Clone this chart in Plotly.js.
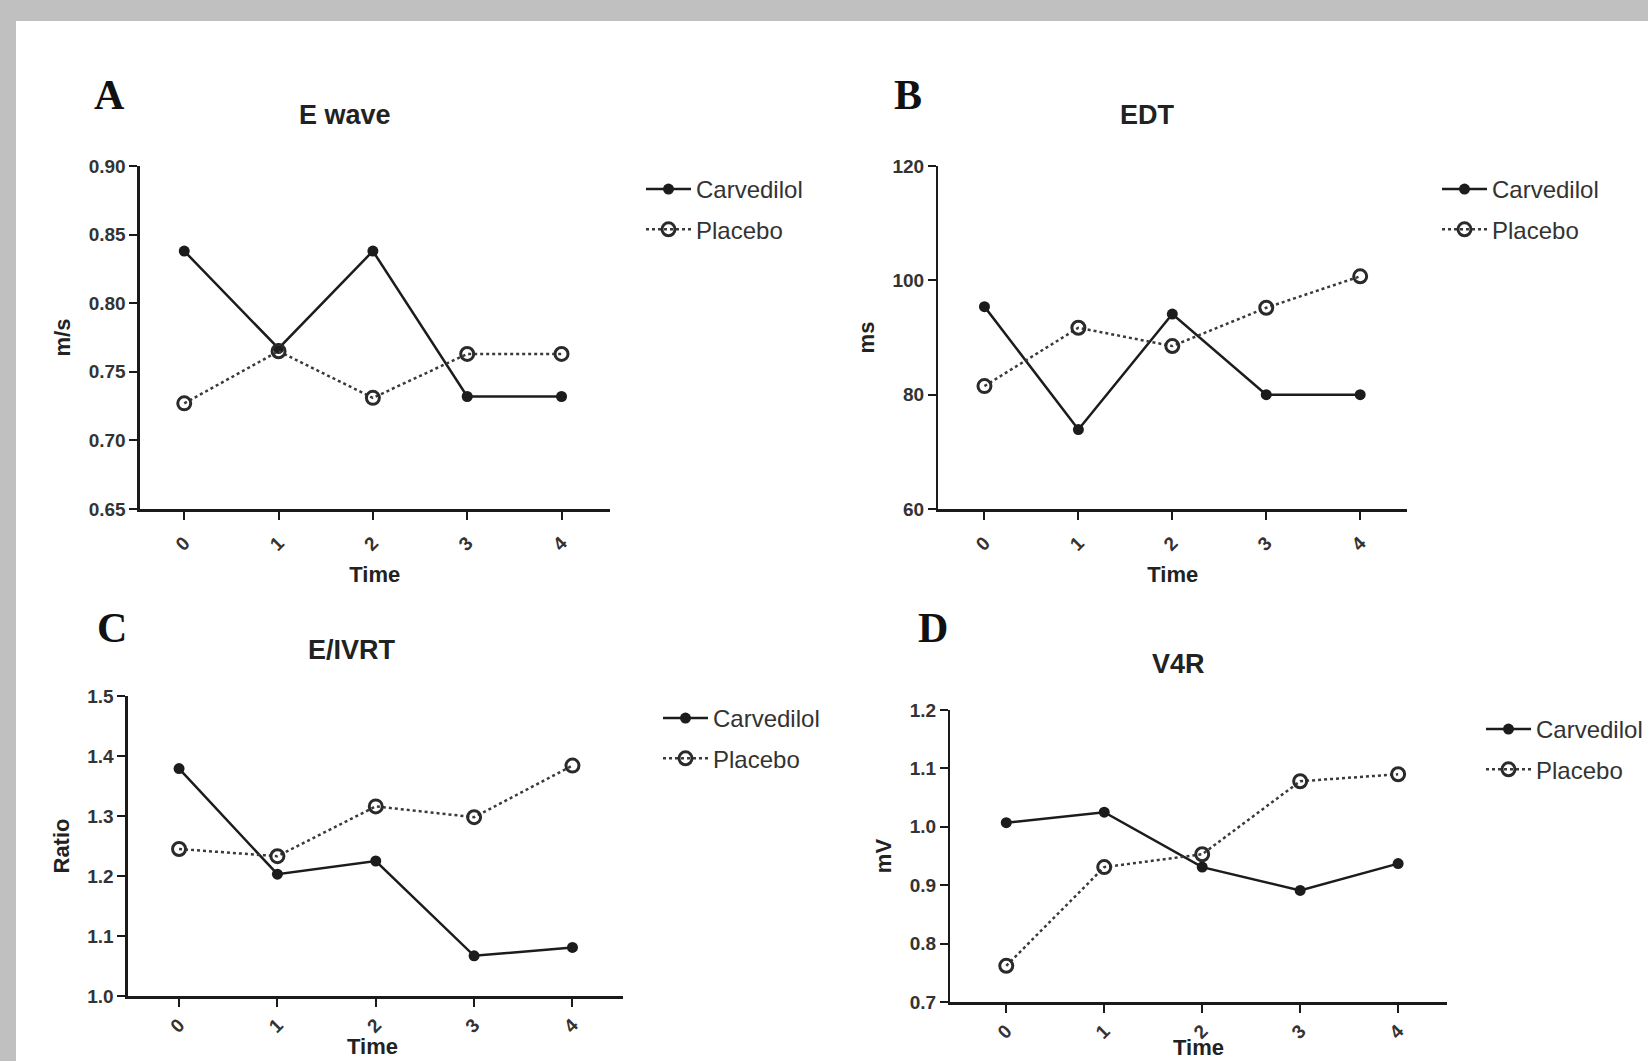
<!DOCTYPE html>
<html>
<head>
<meta charset="utf-8">
<script src="https://cdn.plot.ly/plotly-3.0.1.min.js"></script>
<style>
  html, body { margin: 0; padding: 0; background: #c0c0c0; }
  #chart { width: 1648px; height: 1061px; }
</style>
</head>
<body>
<div id="chart"></div>
<script>
// ---- data ----
const time = [0, 1, 2, 3, 4];
const timeLabels = ['0', '1', '2', '3', '4'];
const seriesNames = ['Carvedilol', 'Placebo'];

const eWaveCarvedilol = [0.838, 0.767, 0.838, 0.732, 0.732];
const eWavePlacebo    = [0.727, 0.765, 0.731, 0.763, 0.763];

const edtCarvedilol = [95.4, 73.9, 94.1, 80.0, 80.0];
const edtPlacebo    = [81.5, 91.7, 88.5, 95.2, 100.7];

const eivrtCarvedilol = [1.379, 1.203, 1.225, 1.067, 1.081];
const eivrtPlacebo    = [1.245, 1.233, 1.316, 1.298, 1.384];

const v4rCarvedilol = [1.007, 1.025, 0.931, 0.891, 0.937];
const v4rPlacebo    = [0.762, 0.931, 0.953, 1.078, 1.090];

const panelTitles = ['E wave', 'EDT', 'E/IVRT', 'V4R'];
const panelLetters = ['A', 'B', 'C', 'D'];
const yTitles = ['m/s', 'ms', 'Ratio', 'mV'];
const xTitle = 'Time';

// ---- layout helpers ----
const W = 1648, H = 1061;
const px = v => v / W;
const py = v => 1 - v / H;

const panels = [
  { c: eWaveCarvedilol, p: eWavePlacebo, x: [140, 610], y: [166, 509], xr: [-0.47, 4.51], yr: [0.65, 0.90], dt: 0.05, fmt: '.2f', leg: [641, 167], tls: 5, xt: null },
  { c: edtCarvedilol,   p: edtPlacebo,   x: [939, 1408], y: [166, 509], xr: [-0.49, 4.5], yr: [60, 120], dt: 20, fmt: 'd', leg: [1437, 167], tls: 5, xt: null },
  { c: eivrtCarvedilol, p: eivrtPlacebo, x: [128, 623], y: [696, 996], xr: [-0.52, 4.51], yr: [1.0, 1.5], dt: 0.1, fmt: '.1f', leg: [658, 696], tls: 0, xt: [373, 1046] },
  { c: v4rCarvedilol,   p: v4rPlacebo,   x: [951, 1448], y: [710, 1002], xr: [-0.57, 4.5], yr: [0.7, 1.2], dt: 0.1, fmt: '.1f', leg: [1482, 707], tls: 0, xt: [1199, 1047] }
];
const titlePos = [[345, 115], [1148, 115], [352, 650], [1179, 664]];
const letterPos = [[110, 95], [909, 95], [112, 628], [934, 628]];

const traces = [];
const layout = {
  width: W, height: H,
  margin: { l: 0, r: 0, t: 0, b: 0 },
  paper_bgcolor: '#c0c0c0',
  plot_bgcolor: 'rgba(0,0,0,0)',
  showlegend: true,
  font: { family: 'Liberation Sans, Arial, sans-serif', color: '#222' },
  shapes: [{
    type: 'rect', xref: 'paper', yref: 'paper', layer: 'below',
    x0: px(16), x1: 1.01, y0: -0.01, y1: py(21),
    fillcolor: '#ffffff', line: { width: 0 }
  }],
  annotations: []
};

const titleFont = { family: 'Liberation Sans, Arial, sans-serif', size: 22, weight: 'bold', color: '#222' };

panels.forEach((pn, i) => {
  const n = i + 1;
  const xa = n === 1 ? 'x' : 'x' + n;
  const ya = n === 1 ? 'y' : 'y' + n;
  const legName = n === 1 ? 'legend' : 'legend' + n;

  traces.push({
    x: time, y: pn.c, xaxis: xa, yaxis: ya, name: seriesNames[0], legend: legName,
    legendgroup: 'c' + n,
    type: 'scatter', mode: 'lines+markers',
    line: { color: '#1c1c1c', width: 2.5 },
    marker: { symbol: 'circle', size: 11, color: '#1c1c1c' }
  });
  traces.push({
    x: time, y: pn.p, xaxis: xa, yaxis: ya, name: seriesNames[1], legend: legName,
    legendgroup: 'p' + n,
    type: 'scatter', mode: 'lines+markers',
    line: { color: '#3a3a3a', width: 2.5, dash: 'dot' },
    marker: { symbol: 'circle-open', size: 13, color: '#2a2a2a', line: { width: 3, color: '#2a2a2a' } }
  });

  const axCommon = {
    showgrid: false, zeroline: false, showline: true,
    linecolor: '#1a1a1a', linewidth: 2.5,
    ticks: 'outside', ticklen: 8, tickwidth: 2, tickcolor: '#1a1a1a',
    tickfont: { family: 'Liberation Sans, Arial, sans-serif', size: 19, color: '#333', weight: 'bold' }
  };

  const xaxisObj = Object.assign({}, axCommon, {
    domain: [px(pn.x[0]), px(pn.x[1])],
    anchor: ya, range: pn.xr,
    tickmode: 'array', tickvals: time, ticktext: timeLabels, tickangle: -45,
    ticklabelstandoff: pn.tls
  });
  if (pn.xt === null) {
    xaxisObj.title = { text: xTitle, standoff: 13, font: titleFont };
  } else {
    // bottom row: title placed near the lower picture edge
    layout.annotations.push({
      xref: 'paper', yref: 'paper', x: px(pn.xt[0]), y: py(pn.xt[1]),
      xanchor: 'center', yanchor: 'middle', showarrow: false,
      text: xTitle, font: titleFont
    });
  }
  layout['xaxis' + (n === 1 ? '' : n)] = xaxisObj;

  layout['yaxis' + (n === 1 ? '' : n)] = Object.assign({}, axCommon, {
    domain: [py(pn.y[1]), py(pn.y[0])],
    anchor: xa, range: pn.yr,
    tick0: pn.yr[0], dtick: pn.dt, tickformat: pn.fmt,
    title: { text: yTitles[i], standoff: 12, font: titleFont }
  });

  layout[legName] = {
    x: px(pn.leg[0]), y: py(pn.leg[1]), xanchor: 'left', yanchor: 'top',
    bgcolor: 'rgba(0,0,0,0)', borderwidth: 0,
    font: { family: 'Liberation Sans, Arial, sans-serif', size: 24, color: '#333' },
    itemwidth: 45,
    tracegroupgap: 6
  };

  layout.annotations.push({
    xref: 'paper', yref: 'paper', x: px(titlePos[i][0]), y: py(titlePos[i][1]),
    xanchor: 'center', yanchor: 'middle', showarrow: false,
    text: panelTitles[i],
    font: { family: 'Liberation Sans, Arial, sans-serif', size: 27, weight: 'bold', color: '#222' }
  });
  layout.annotations.push({
    xref: 'paper', yref: 'paper', x: px(letterPos[i][0]), y: py(letterPos[i][1]),
    xanchor: 'center', yanchor: 'middle', showarrow: false,
    text: panelLetters[i],
    font: { family: 'Liberation Serif, Times New Roman, serif', size: 42, weight: 'bold', color: '#111' }
  });
});

Plotly.newPlot('chart', traces, layout, { displayModeBar: false, staticPlot: true });
</script>
</body>
</html>
